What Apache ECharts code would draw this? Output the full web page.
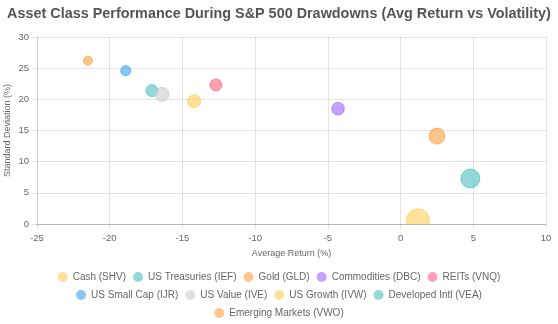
<!DOCTYPE html>
<html>
<head>
<meta charset="utf-8">
<script src="https://cdn.jsdelivr.net/npm/echarts@6/dist/echarts.min.js"></script>
<style>
  html, body { margin: 0; padding: 0; background: #fff; }
  #chart { width: 558px; height: 324px; }
</style>
</head>
<body>
<div id="chart"></div>
<script>
// Asset classes, their average return and volatility during S&P 500 drawdowns
const assetNames = [
  'Cash (SHV)', 'US Treasuries (IEF)', 'Gold (GLD)', 'Commodities (DBC)', 'REITs (VNQ)',
  'US Small Cap (IJR)', 'US Value (IVE)', 'US Growth (IVW)', 'Developed Intl (VEA)',
  'Emerging Markets (VWO)'
];
const avgReturn = [1.2, -17.1, 2.5, -4.3, -12.7, -18.9, -16.4, -14.2, 4.8, -21.5];
const stdDev    = [0.6, 21.4, 14.1, 18.5, 22.3, 24.6, 20.8, 19.7, 7.3, 26.2];
const bubbleSize = [11.5, 6, 8, 6.3, 6, 5, 7, 6.5, 9.5, 4.5];

const palette = [
  [255, 205, 86], [75, 192, 192], [255, 159, 64], [153, 102, 255], [255, 99, 132],
  [54, 162, 235], [201, 203, 207], [255, 205, 86], [75, 192, 192], [255, 159, 64]
];
const rgba = (c, a) => `rgba(${c[0]},${c[1]},${c[2]},${a})`;

const legendRows = [assetNames.slice(0, 5), assetNames.slice(5, 9), assetNames.slice(9)];
const legendTops = [267, 285, 303];
const font = 'Liberation Sans, Arial, sans-serif';

const series = assetNames.map((name, i) => ({
  name,
  type: 'custom',
  clip: true,
  itemStyle: { color: rgba(palette[i], 0.6), borderColor: rgba(palette[i], 0.7), borderWidth: 1 },
  data: [[avgReturn[i], stdDev[i], bubbleSize[i]]],
  renderItem: (params, api) => {
    const p = api.coord([api.value(0), api.value(1)]);
    return {
      type: 'circle',
      shape: { cx: p[0], cy: p[1], r: api.value(2) },
      style: { fill: rgba(palette[i], 0.6), stroke: rgba(palette[i], 0.7), lineWidth: 1 }
    };
  }
}));

const axisText = { color: '#666', fontSize: 9.5, fontFamily: font };
const gridLine = { lineStyle: { color: 'rgba(0,0,0,0.1)', width: 1 } };

const chart = echarts.init(document.getElementById('chart'), null, { renderer: 'canvas' });
chart.setOption({
  animation: false,
  textStyle: { fontFamily: font },
  title: {
    text: 'Asset Class Performance During S&P 500 Drawdowns (Avg Return vs Volatility)',
    left: 'center', top: 2,
    textStyle: { fontSize: 14.4, fontWeight: 'bold', color: '#555', fontFamily: font }
  },
  legend: legendRows.map((row, k) => ({
    data: row,
    top: legendTops[k],
    left: 'center',
    icon: 'circle',
    itemWidth: 10,
    itemHeight: 10,
    itemGap: 7,
    itemStyle: { borderWidth: 0 },
    textStyle: { color: '#666', fontSize: 10, fontFamily: font }
  })),
  grid: { left: 37, right: 12, top: 37, bottom: 100, containLabel: false, outerBoundsMode: 'none' },
  xAxis: {
    type: 'value', min: -25, max: 10, interval: 5,
    name: 'Average Return (%)', nameLocation: 'middle', nameGap: 25, nameMoveOverlap: false,
    nameTextStyle: { color: '#666', fontSize: 9 },
    axisLine: { show: true, onZero: false, lineStyle: { color: 'rgba(0,0,0,0.2)' } },
    axisTick: { show: true, length: 5, lineStyle: { color: 'rgba(0,0,0,0.1)' } },
    axisLabel: Object.assign({ margin: 9 }, axisText),
    splitLine: Object.assign({ show: true }, gridLine)
  },
  yAxis: {
    type: 'value', min: 0, max: 30, interval: 5,
    name: 'Standard Deviation (%)', nameLocation: 'middle', nameGap: 25, nameMoveOverlap: false,
    nameTextStyle: { color: '#666', fontSize: 9 },
    axisLine: { show: true, onZero: false, lineStyle: { color: 'rgba(0,0,0,0.1)' } },
    axisTick: { show: true, length: 5, lineStyle: { color: 'rgba(0,0,0,0.1)' } },
    axisLabel: Object.assign({ margin: 8 }, axisText),
    splitLine: Object.assign({ show: true }, gridLine)
  },
  series
});
</script>
</body>
</html>
